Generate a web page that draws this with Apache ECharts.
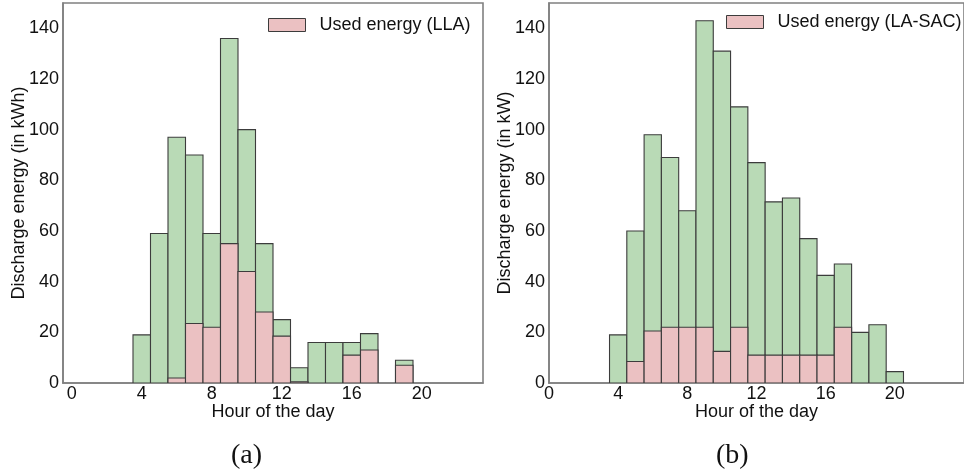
<!DOCTYPE html>
<html>
<head>
<meta charset="utf-8">
<script src="https://cdn.jsdelivr.net/npm/echarts@6/dist/echarts.min.js"></script>
<style>
  html, body { margin: 0; padding: 0; background: #fff; }
  #chart { width: 964px; height: 471px; }
</style>
</head>
<body>
<div id="chart"></div>
<script>
// Hourly discharge energy, two control strategies
const hoursLLA = [4, 5, 6, 7, 8, 9, 10, 11, 12, 13, 14, 15, 16, 17, 18, 19];
const totalLLA = [19, 59, 97, 90, 59, 136, 100, 55, 25, 6, 16, 16, 16, 19.5, 0, 9];
const usedLLA  = [0, 0, 2, 23.5, 22, 55, 44, 28, 18.5, 0.5, 0, 0, 11, 13, 0, 7];

const hoursSAC = [4, 5, 6, 7, 8, 9, 10, 11, 12, 13, 14, 15, 16, 17, 18, 19, 20];
const totalSAC = [19, 60, 98, 89, 68, 143, 131, 109, 87, 71.5, 73, 57, 42.5, 47, 20, 23, 4.5];
const usedSAC  = [0, 8.5, 20.5, 22, 22, 22, 12.5, 22, 11, 11, 11, 11, 11, 22, 0, 0, 0];

const xTicks = [0, 4, 8, 12, 16, 20];
const yTicks = [0, 20, 40, 60, 80, 100, 120, 140];

const GREEN = '#b9dab6';
const PINK = '#ebc1c2';
const EDGE = '#3c3c3c';
const FRAME = '#808080';
const FONT = '"Liberation Sans", Arial, sans-serif';

function pairs(hours, vals) {
  return hours.map((h, i) => [h, vals[i]]).filter(p => p[1] > 0);
}

// one-hour-wide histogram bar centred on its hour
function barItem(params, api) {
  const h = api.value(0), v = api.value(1);
  const p0 = api.coord([h - 0.5, v]);
  const p1 = api.coord([h + 0.5, 0]);
  return {
    type: 'rect',
    shape: { x: p0[0], y: p0[1], width: p1[0] - p0[0], height: p1[1] - p0[1] },
    style: api.style({ lineWidth: 1.1 })
  };
}

function histSeries(name, idx, hours, vals, color) {
  return {
    name: name,
    type: 'custom',
    xAxisIndex: idx,
    yAxisIndex: idx,
    clip: true,
    renderItem: barItem,
    itemStyle: { color: color, borderColor: EDGE, borderWidth: 1.1, opacity: 1 },
    data: pairs(hours, vals)
  };
}

function xAxis(idx, min, max) {
  return {
    type: 'value', gridIndex: idx, min: min, max: max,
    name: 'Hour of the day', nameLocation: 'middle', nameGap: 20, nameMoveOverlap: false,
    nameTextStyle: { fontFamily: FONT, fontSize: 18, color: '#111' },
    axisLine: { show: true, onZero: false, lineStyle: { color: FRAME, width: 1.6 } },
    axisTick: { show: false },
    splitLine: { show: false },
    axisLabel: { customValues: xTicks, margin: 2, fontFamily: FONT, fontSize: 18, color: '#111' }
  };
}

function yAxis(idx, title) {
  return {
    type: 'value', gridIndex: idx, min: 0, max: 150,
    name: title, nameLocation: 'middle', nameGap: 35, nameMoveOverlap: false,
    nameTextStyle: { fontFamily: FONT, fontSize: 18, color: '#111' },
    axisLine: { show: true, onZero: false, lineStyle: { color: FRAME, width: 1.6 } },
    axisTick: { show: false },
    splitLine: { show: false },
    axisLabel: { customValues: yTicks, margin: 4, fontFamily: FONT, fontSize: 18, color: '#111' }
  };
}

function legendFor(name, left, top) {
  return {
    data: [{ name: name, icon: 'rect', itemStyle: { color: PINK, borderColor: EDGE, borderWidth: 1 } }],
    left: left, top: top,
    itemWidth: 37, itemHeight: 13, itemGap: 10,
    textStyle: { fontFamily: FONT, fontSize: 18, color: '#111', padding: [0, 0, 0, 9] },
    selectedMode: false
  };
}

const chart = echarts.init(document.getElementById('chart'), null, { renderer: 'canvas' });
chart.setOption({
  animation: false,
  backgroundColor: '#fff',
  grid: [
    { left: 63, top: 3, width: 420, bottom: 88, show: true, borderColor: FRAME, borderWidth: 1.6, backgroundColor: 'transparent' },
    { left: 549, top: 3, width: 421, bottom: 88, show: true, borderColor: FRAME, borderWidth: 1.6, backgroundColor: 'transparent' }
  ],
  xAxis: [xAxis(0, -0.5, 23.5), xAxis(1, 0, 24)],
  yAxis: [yAxis(0, 'Discharge energy (in kWh)'), yAxis(1, 'Discharge energy (in kW)')],
  legend: [
    legendFor('Used energy (LLA)', 263, 11),
    legendFor('Used energy (LA-SAC)', 721, 8)
  ],
  series: [
    histSeries('Discharge (LLA)', 0, hoursLLA, totalLLA, GREEN),
    histSeries('Used energy (LLA)', 0, hoursLLA, usedLLA, PINK),
    histSeries('Discharge (LA-SAC)', 1, hoursSAC, totalSAC, GREEN),
    histSeries('Used energy (LA-SAC)', 1, hoursSAC, usedSAC, PINK)
  ],
  graphic: [
    { type: 'text', left: 231, top: 442, style: { text: '(a)', font: '28px "Liberation Serif", "DejaVu Serif", serif', fill: '#111' } },
    { type: 'text', left: 716, top: 442, style: { text: '(b)', font: '28px "Liberation Serif", "DejaVu Serif", serif', fill: '#111' } }
  ]
});
</script>
</body>
</html>
